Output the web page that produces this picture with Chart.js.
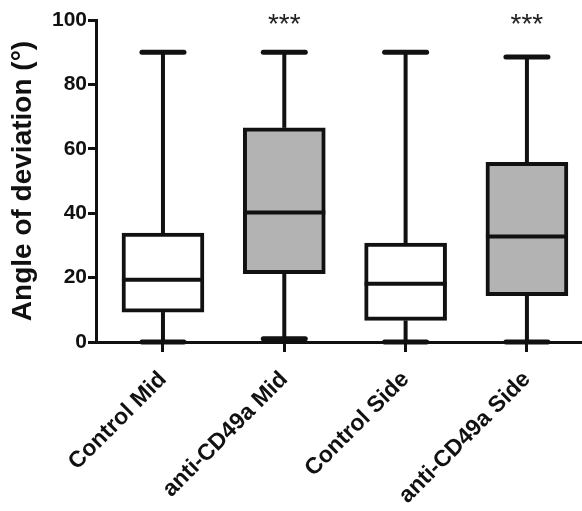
<!DOCTYPE html>
<html>
<head>
<meta charset="utf-8">
<script src="https://cdn.jsdelivr.net/npm/chart.js@4.4.0/dist/chart.umd.min.js"></script>
<style>
  html, body { margin: 0; padding: 0; background: #fff; }
  #wrap { width: 582px; height: 511px; }
</style>
</head>
<body>
<div id="wrap"><canvas id="boxChart" width="582" height="511"></canvas></div>
<script>
// box plot values (degrees)
var categories = ["Control Mid", "anti-CD49a Mid", "Control Side", "anti-CD49a Side"];
var whiskerMin = [0, 1, 0, 0];
var quartile1 = [9.3, 21.2, 6.7, 14.4];
var medians = [19.3, 40.2, 18.1, 32.8];
var quartile3 = [33.8, 66.5, 30.7, 55.8];
var whiskerMax = [90, 90, 90, 88.5];
var stars = ["", "***", "", "***"];
var boxFills = ["#ffffff", "#b3b3b3", "#ffffff", "#b3b3b3"];

var ink = "#111111";
var boxWidth = 82;
var capWidth = 42;

// whiskers, caps, medians and the significance stars
var boxPlot = {
  id: 'boxPlot',
  afterDatasetsDraw: function(chart) {
    var ctx = chart.ctx;
    var x = chart.scales.x, y = chart.scales.y;
    function line(x1, y1, x2, y2) {
      ctx.beginPath();
      ctx.moveTo(x1, y1);
      ctx.lineTo(x2, y2);
      ctx.stroke();
    }
    ctx.save();
    ctx.strokeStyle = ink;
    categories.forEach(function(c, i) {
      var cx = x.getPixelForValue(i);
      var yMin = y.getPixelForValue(whiskerMin[i]);
      var yMax = y.getPixelForValue(whiskerMax[i]);
      ctx.lineCap = 'butt';
      ctx.lineWidth = 4;
      line(cx, y.getPixelForValue(quartile3[i]), cx, yMax);
      line(cx, y.getPixelForValue(quartile1[i]), cx, yMin);
      ctx.lineCap = 'round';
      ctx.lineWidth = 5;
      line(cx - capWidth / 2, yMax, cx + capWidth / 2, yMax);
      line(cx - capWidth / 2, yMin, cx + capWidth / 2, yMin);
      ctx.lineCap = 'butt';
      ctx.lineWidth = 4;
      var ym = y.getPixelForValue(medians[i]);
      line(cx - boxWidth / 2, ym, cx + boxWidth / 2, ym);

      if (stars[i]) {
        ctx.fillStyle = "#222";
        ctx.font = "28px 'Liberation Sans', Arial, sans-serif";
        ctx.textAlign = 'center';
        ctx.textBaseline = 'alphabetic';
        ctx.fillText(stars[i], cx, 33);
      }
    });
    ctx.restore();
  }
};

var boxes = categories.map(function(c, i) {
  return { x: i, y: [quartile1[i], quartile3[i]] };
});

var myChart = new Chart(document.getElementById('boxChart'), {
  type: 'bar',
  data: {
    datasets: [{
      data: boxes,
      backgroundColor: boxFills,
      borderColor: ink,
      borderWidth: 4,
      borderSkipped: false,
      barThickness: boxWidth
    }]
  },
  options: {
    responsive: false,
    maintainAspectRatio: false,
    animation: false,
    layout: { padding: { top: 20, right: 0, left: 0, bottom: 0 } },
    plugins: {
      legend: { display: false },
      tooltip: { enabled: false }
    },
    scales: {
      x: {
        type: 'linear',
        min: -0.552,
        max: 3.454,
        offset: false,
        afterBuildTicks: function(scale) {
          scale.ticks = categories.map(function(c, i) { return { value: i }; });
        },
        afterFit: function(scale) { scale.height = 169; },
        border: { display: true, color: ink, width: 3 },
        grid: { offset: false, drawOnChartArea: false, drawTicks: true, tickLength: 10, color: ink, lineWidth: 3 },
        ticks: {
          autoSkip: false,
          minRotation: 45,
          maxRotation: 45,
          padding: 14,
          color: ink,
          font: { family: "'Liberation Sans', Arial, sans-serif", size: 23, weight: 'bold' },
          callback: function(value) { return categories[value]; }
        }
      },
      y: {
        min: 0,
        max: 100,
        afterFit: function(scale) { scale.width = 96; },
        border: { display: true, color: ink, width: 3 },
        grid: { drawOnChartArea: false, drawTicks: true, tickLength: 8, color: ink, lineWidth: 3 },
        ticks: {
          stepSize: 20,
          padding: 1,
          color: ink,
          font: { family: "'Liberation Sans', Arial, sans-serif", size: 21, weight: 'bold' }
        },
        title: {
          display: true,
          text: 'Angle of deviation (°)',
          color: ink,
          padding: { top: 6, bottom: 0 },
          font: { family: "'Liberation Sans', Arial, sans-serif", size: 28, weight: 'bold' }
        }
      }
    }
  },
  plugins: [boxPlot]
});
</script>
</body>
</html>
